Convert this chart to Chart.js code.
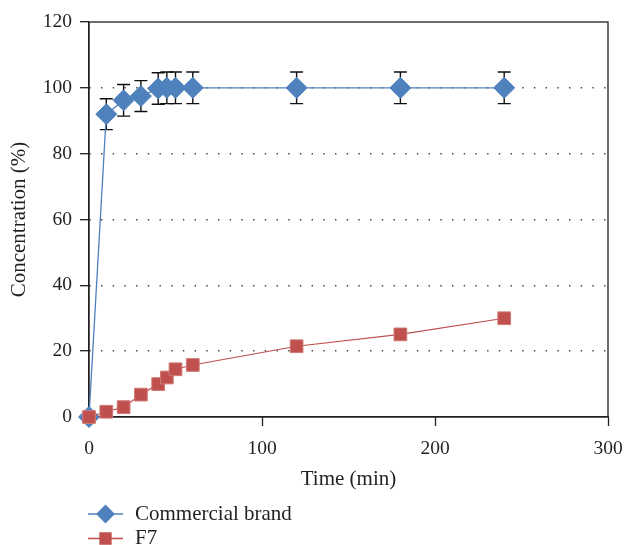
<!DOCTYPE html>
<html>
<head>
<meta charset="utf-8">
<script src="https://cdn.jsdelivr.net/npm/chart.js@4/dist/chart.umd.min.js"></script>
<style>
  html, body { margin: 0; padding: 0; background: #ffffff; }
  #wrap { width: 627px; height: 545px; }
</style>
</head>
<body>
<div id="wrap"><canvas id="c" width="627" height="545"></canvas></div>
<script>
// ---- Data ----
const timeMin = [0, 10, 20, 30, 40, 45, 50, 60, 120, 180, 240];
const commercialBrand = [0, 92, 96.2, 97.5, 99.8, 100, 100, 100, 100, 100, 100];
const commercialErr = [0, 4.7, 4.8, 4.7, 4.8, 4.8, 4.8, 4.8, 4.8, 4.8, 4.8];
const f7 = [0, 1.6, 3.0, 6.8, 10.0, 12.0, 14.5, 15.8, 21.5, 25.1, 30.0];
const seriesNames = ['Commercial brand', 'F7'];
const xTicks = [0, 100, 200, 300];
const yTicks = [0, 20, 40, 60, 80, 100, 120];
const xTitle = 'Time (min)';
const yTitle = 'Concentration (%)';

const BLUE = '#4f81bd';
const RED = '#c0504d';
const INK = '#231f20';
const FONT = '"Liberation Serif", "DejaVu Serif", serif';

const toXY = (xs, ys) => xs.map((x, i) => ({ x: x, y: ys[i] }));

const framePlugin = {
  id: 'frameAndErrors',
  beforeDatasetsDraw(chart) {
    const { ctx, chartArea: a, scales } = chart;
    ctx.save();
    ctx.strokeStyle = INK;
    ctx.lineWidth = 1.3;
    ctx.setLineDash([]);
    ctx.strokeRect(a.left, a.top, a.right - a.left, a.bottom - a.top);
    // error bars
    ctx.lineWidth = 1.4;
    ctx.strokeStyle = '#111';
    const cap = 6.5;
    timeMin.forEach((t, i) => {
      const e = commercialErr[i];
      if (!e) return;
      const px = scales.x.getPixelForValue(t);
      const yt = scales.y.getPixelForValue(commercialBrand[i] + e);
      const yb = scales.y.getPixelForValue(commercialBrand[i] - e);
      ctx.beginPath();
      ctx.moveTo(px, yt); ctx.lineTo(px, yb);
      ctx.moveTo(px - cap, yt); ctx.lineTo(px + cap, yt);
      ctx.moveTo(px - cap, yb); ctx.lineTo(px + cap, yb);
      ctx.stroke();
    });
    ctx.restore();
  },
  afterDraw(chart) {
    const { ctx, chartArea: a } = chart;
    const H = chart.height;
    const items = [
      { name: seriesNames[0], color: BLUE, style: 'rectRot', r: 8.5, y: H - 31 },
      { name: seriesNames[1], color: RED, style: 'rect', r: 7.8, y: H - 6.5 }
    ];
    ctx.save();
    items.forEach(it => {
      const x0 = a.left - 1, x1 = a.left + 34;
      ctx.strokeStyle = it.color;
      ctx.lineWidth = 1.3;
      ctx.beginPath(); ctx.moveTo(x0, it.y); ctx.lineTo(x1, it.y); ctx.stroke();
      Chart.helpers.drawPoint(ctx, {
        pointStyle: it.style, radius: it.r, rotation: 0, borderWidth: 1
      }, (x0 + x1) / 2, it.y);
      ctx.fillStyle = it.color;
      ctx.fill();
      ctx.fillStyle = INK;
      ctx.font = '21px ' + FONT;
      ctx.textBaseline = 'middle';
      ctx.textAlign = 'left';
      ctx.fillText(it.name, a.left + 46, it.y);
    });
    ctx.restore();
  }
};

new Chart(document.getElementById('c'), {
  type: 'line',
  data: {
    datasets: [
      {
        label: seriesNames[0],
        data: toXY(timeMin, commercialBrand),
        borderColor: BLUE,
        backgroundColor: BLUE,
        borderWidth: 1.3,
        pointStyle: 'rectRot',
        pointRadius: 10.5,
        pointHoverRadius: 10.5,
        pointBackgroundColor: BLUE,
        pointBorderColor: BLUE,
        pointBorderWidth: 1,
        tension: 0,
        clip: false,
        order: 1
      },
      {
        label: seriesNames[1],
        data: toXY(timeMin, f7),
        borderColor: RED,
        backgroundColor: RED,
        borderWidth: 1.2,
        pointStyle: 'rect',
        pointRadius: 9,
        pointHoverRadius: 9,
        pointBackgroundColor: RED,
        pointBorderColor: '#d07a77',
        pointBorderWidth: 1,
        tension: 0,
        clip: false,
        order: 0
      }
    ]
  },
  options: {
    responsive: false,
    animation: false,
    devicePixelRatio: 1,
    layout: { padding: { top: 22, right: 19, bottom: 48, left: 0 } },
    plugins: {
      legend: { display: false },
      tooltip: { enabled: false }
    },
    scales: {
      x: {
        type: 'linear',
        min: 0, max: 300,
        afterFit(s) { s.height = 80; s.paddingLeft = 0; s.paddingRight = 0; },
        afterBuildTicks(s) { s.ticks = xTicks.map(v => ({ value: v })); },
        ticks: {
          color: INK,
          font: { family: FONT, size: 19.5 },
          padding: 11,
          maxRotation: 0,
          callback: v => String(v)
        },
        grid: {
          drawOnChartArea: false,
          drawTicks: true,
          tickLength: 9,
          tickColor: INK,
          tickWidth: 1.3
        },
        border: { display: true, color: INK, width: 1.3 },
        title: {
          display: true,
          text: xTitle,
          color: INK,
          font: { family: FONT, size: 21 },
          padding: { top: 0, bottom: 5 }
        }
      },
      y: {
        type: 'linear',
        min: 0, max: 120,
        afterFit(s) { s.width = 89; s.paddingTop = 0; s.paddingBottom = 0; },
        afterBuildTicks(s) { s.ticks = yTicks.map(v => ({ value: v })); },
        ticks: {
          color: INK,
          font: { family: FONT, size: 19.5 },
          padding: 8,
          callback: v => String(v)
        },
        grid: {
          drawOnChartArea: true,
          drawTicks: true,
          tickLength: 9,
          tickColor: INK,
          tickWidth: 1.3,
          tickBorderDash: [],
          lineWidth: 1.4,
          color: ctx => (ctx.tick && (ctx.tick.value === 0 || ctx.tick.value === 120)) ? 'rgba(0,0,0,0)' : '#444'
        },
        border: { display: true, color: INK, width: 1.3, dash: [1.4, 10.3] },
        title: {
          display: true,
          text: yTitle,
          color: INK,
          font: { family: FONT, size: 21 },
          padding: { top: 7, bottom: 0 }
        }
      }
    }
  },
  plugins: [framePlugin]
});
</script>
</body>
</html>
